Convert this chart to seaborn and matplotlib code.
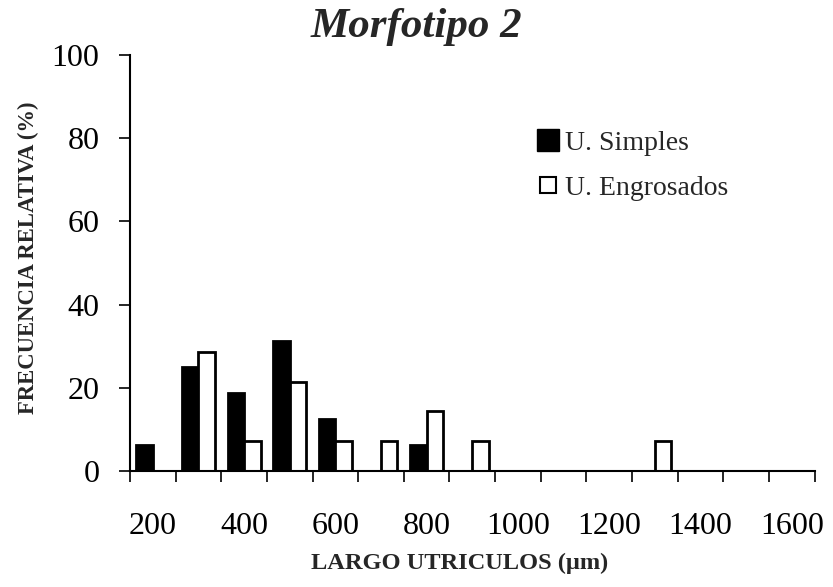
import numpy as np
import pandas as pd
import seaborn as sns
import matplotlib.pyplot as plt
from matplotlib.lines import Line2D

# Length classes (µm) and relative frequencies (%) per utricle type
largo = [200, 300, 400, 500, 600, 700, 800, 900, 1000, 1100, 1200, 1300, 1400, 1500, 1600]
simples = [6.25, 25.0, 18.75, 31.25, 12.5, 0, 6.25, 0, 0, 0, 0, 0, 0, 0, 0]
engrosados = [0, 28.57, 7.14, 21.43, 7.14, 7.14, 14.29, 7.14, 0, 0, 0, 7.14, 0, 0, 0]
series = ["U. Simples", "U. Engrosados"]
tick_labels = ["200", "400", "600", "800", "1000", "1200", "1400", "1600"]

df = pd.DataFrame({
    "largo": [str(v) for v in largo] * 2,
    "frec": simples + engrosados,
    "tipo": [series[0]] * len(largo) + [series[1]] * len(largo),
})

sns.set_theme(style="ticks")
plt.rcParams["font.family"] = ["Liberation Serif", "DejaVu Serif"]

fig = plt.figure(figsize=(8.33, 5.87), dpi=100)
ax = fig.add_axes([0.156, 0.198, 0.822, 0.708])

sns.barplot(data=df, x="largo", y="frec", hue="tipo", order=[str(v) for v in largo],
            hue_order=series, palette=["black", "white"], edgecolor="black",
            linewidth=2.0, width=0.72, ax=ax, legend=False)

ax.set_xlim(-0.5, len(largo) - 0.5)
ax.set_ylim(0, 100)
ax.set_yticks([0, 20, 40, 60, 80, 100])
ax.tick_params(axis="y", labelsize=23, length=8, width=1.2, direction="out", pad=14, colors="black")

ax.set_xticks(range(0, len(largo), 2))
ax.set_xticklabels(tick_labels)
ax.set_xticks(np.arange(-0.5, len(largo), 1.0), minor=True)
ax.tick_params(axis="x", which="major", length=0, labelsize=23, pad=30, colors="black")
ax.tick_params(axis="x", which="minor", length=8, width=1.2, direction="out", colors="black")

for side in ("top", "right"):
    ax.spines[side].set_visible(False)
for side in ("left", "bottom"):
    ax.spines[side].set_linewidth(1.5)
    ax.spines[side].set_color("black")

ax.set_xlabel("LARGO UTRICULOS (µm)", fontsize=17.6, fontweight="bold")
ax.xaxis.set_label_coords(0.481, -0.197)
ax.set_ylabel("FRECUENCIA RELATIVA (%)", fontsize=16.3, fontweight="bold")
ax.yaxis.set_label_coords(-0.133, 0.513)

fig.text(0.4995, 1 - 37 / 587, "Morfotipo 2", ha="center", va="baseline", fontsize=31,
         fontweight="bold", fontstyle="italic")

handles = [
    Line2D([], [], linestyle="none", marker="s", markersize=16, markerfacecolor="black",
           markeredgecolor="black"),
    Line2D([], [], linestyle="none", marker="s", markersize=11, markerfacecolor="white",
           markeredgecolor="black", markeredgewidth=1.5),
]
ax.legend(handles, series, loc="upper left", bbox_to_anchor=(0.578, 0.845), frameon=False,
          fontsize=20, handlelength=0.8, handletextpad=0.2, labelspacing=0.7,
          borderaxespad=0)

fig.savefig("out.png", dpi=100)
